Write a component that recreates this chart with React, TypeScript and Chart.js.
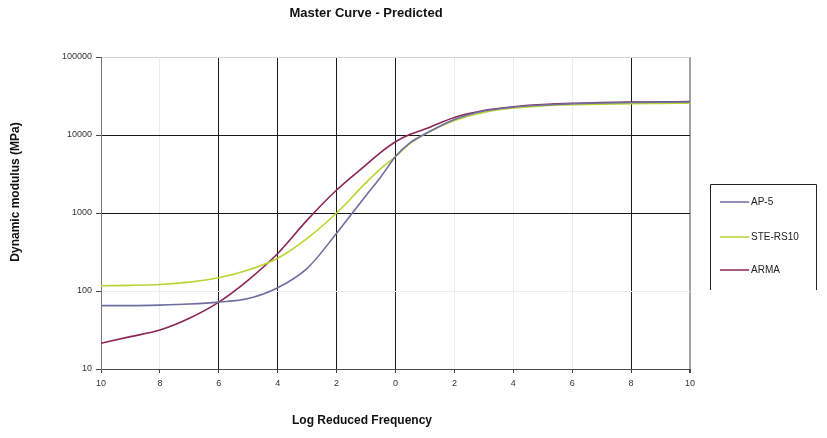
import React, { useEffect, useRef } from "react";
import { Chart, registerables } from "chart.js";

Chart.register(...registerables);

const chartTitle = "Master Curve - Predicted";
const xAxisTitle = "Log Reduced Frequency";
const yAxisTitle = "Dynamic modulus (MPa)";

const logFrequency = [-10, -9, -8, -7, -6, -5, -4, -3, -2, -1, -0.5, 0, 0.5, 1, 2, 3, 4, 5, 6, 7, 8, 9, 10];

const ap5 = [65, 65, 66, 68, 72, 80, 110, 195, 550, 1680, 2900, 5300, 8000, 10300, 15800, 20300, 22700, 24200, 25100, 25700, 26100, 26400, 26500];
const steRs10 = [117, 118, 121, 130, 148, 186, 263, 473, 1000, 2450, 3700, 5300, 7800, 10300, 15300, 19500, 22200, 23600, 24400, 24900, 25200, 25400, 25600];
const arma = [21.4, 26, 31.6, 44.7, 72, 138, 302, 810, 1970, 4150, 6000, 8200, 10200, 11900, 16800, 20600, 23000, 24500, 25500, 26000, 26400, 26600, 26800];

const seriesNames = ["AP-5", "STE-RS10", "ARMA"];
const seriesColors = ["#6e6ea2", "#b9d532", "#8a2657"];

const xTickValues = [-10, -8, -6, -4, -2, 0, 2, 4, 6, 8, 10];
const xTickLabels = ["10", "8", "6", "4", "2", "0", "2", "4", "6", "8", "10"];
const xDarkGrid = [-6, -4, -2, 0, 8];

const yTickValues = [10, 100, 1000, 10000, 100000];
const yTickLabels = ["10", "100", "1000", "10000", "100000"];
const yDarkGrid = [1000, 10000];

const FONT = "'Liberation Sans', Arial, sans-serif";

export default function App() {
  const canvasRef = useRef<HTMLCanvasElement | null>(null);

  useEffect(() => {
    const canvas = canvasRef.current;
    if (!canvas) return;

    const toPoints = (vals: number[]) => logFrequency.map((x, i) => ({ x, y: vals[i] }));
    const allSeries = [ap5, steRs10, arma];

    const textPlugin = {
      id: "customText",
      afterDraw(chart: any) {
        const ctx = chart.ctx;
        ctx.save();
        ctx.fillStyle = "#111";
        ctx.textAlign = "center";
        ctx.textBaseline = "middle";
        ctx.font = `bold 13px ${FONT}`;
        ctx.fillText(chartTitle, 366, 13);
        ctx.font = `bold 12px ${FONT}`;
        ctx.fillText(xAxisTitle, 362, 421);
        ctx.translate(16, 192);
        ctx.rotate(-Math.PI / 2);
        ctx.fillText(yAxisTitle, 0, 0);
        ctx.restore();

        // legend
        ctx.save();
        ctx.strokeStyle = "#222";
        ctx.lineWidth = 1;
        ctx.beginPath();
        ctx.moveTo(710.5, 290);
        ctx.lineTo(710.5, 184.5);
        ctx.lineTo(816.5, 184.5);
        ctx.lineTo(816.5, 290);
        ctx.stroke();
        const ys = [202, 237, 270];
        ctx.font = `10px ${FONT}`;
        ctx.textAlign = "left";
        ctx.textBaseline = "middle";
        chart.data.datasets.forEach((ds: any, i: number) => {
          ctx.strokeStyle = ds.borderColor;
          ctx.lineWidth = 1.5;
          ctx.beginPath();
          ctx.moveTo(720, ys[i]);
          ctx.lineTo(749, ys[i]);
          ctx.stroke();
          ctx.fillStyle = "#222";
          ctx.fillText(ds.label, 751, ys[i] + 0.5);
        });
        ctx.restore();
      },
    };

    const chart = new Chart(canvas, {
      type: "line",
      data: {
        datasets: allSeries.map((vals, i) => ({
          label: seriesNames[i],
          data: toPoints(vals),
          borderColor: seriesColors[i],
          backgroundColor: seriesColors[i],
          borderWidth: 1.6,
          pointRadius: 0,
          cubicInterpolationMode: "monotone" as const,
          fill: false,
        })),
      },
      options: {
        responsive: false,
        animation: false,
        layout: { padding: { left: 0, top: 57, right: 137, bottom: 0 } },
        plugins: {
          legend: { display: false },
          title: { display: false },
          tooltip: { enabled: false },
        },
        scales: {
          x: {
            type: "linear",
            min: -10,
            max: 10,
            afterBuildTicks: (scale: any) => {
              scale.ticks = xTickValues.map((v) => ({ value: v }));
            },
            afterFit: (scale: any) => {
              scale.height = 69;
            },
            ticks: {
              autoSkip: false,
              maxRotation: 0,
              padding: 5,
              color: "#333",
              font: { family: FONT, size: 9 },
              callback: (_v: any, i: number) => xTickLabels[i],
            },
            grid: {
              color: (c: any) => {
                const v = c.tick ? c.tick.value : null;
                if (v === -10) return "rgba(0,0,0,0)";
                if (v === 10) return "#a4a4a4";
                return xDarkGrid.includes(v) ? "#1a1a1a" : "#ececec";
              },
              lineWidth: (c: any) => (c.tick && c.tick.value === 10 ? 2 : 1),
              tickColor: "#444",
              tickLength: 4,
            },
            border: { display: true, color: "#4a4a4a", width: 1 },
          },
          y: {
            type: "logarithmic",
            min: 10,
            max: 100000,
            afterBuildTicks: (scale: any) => {
              scale.ticks = yTickValues.map((v) => ({ value: v }));
            },
            afterFit: (scale: any) => {
              scale.width = 101;
            },
            ticks: {
              autoSkip: false,
              padding: 4,
              color: "#333",
              font: { family: FONT, size: 9 },
              callback: (_v: any, i: number) => yTickLabels[i],
            },
            grid: {
              color: (c: any) => {
                const v = c.tick ? c.tick.value : null;
                if (v === 10) return "rgba(0,0,0,0)";
                if (v === 100000) return "#d4d4d4";
                return yDarkGrid.includes(v) ? "#1a1a1a" : "#ececec";
              },
              tickColor: "#444",
              tickLength: 5,
            },
            border: { display: true, color: "#777", width: 1 },
          },
        },
      },
      plugins: [textPlugin],
    });

    return () => chart.destroy();
  }, []);

  return (
    <div style={{ position: "absolute", left: 0, top: 0, width: 827, height: 438, background: "#fff" }}>
      <canvas ref={canvasRef} width={827} height={438} style={{ width: 827, height: 438, display: "block" }} />
    </div>
  );
}
